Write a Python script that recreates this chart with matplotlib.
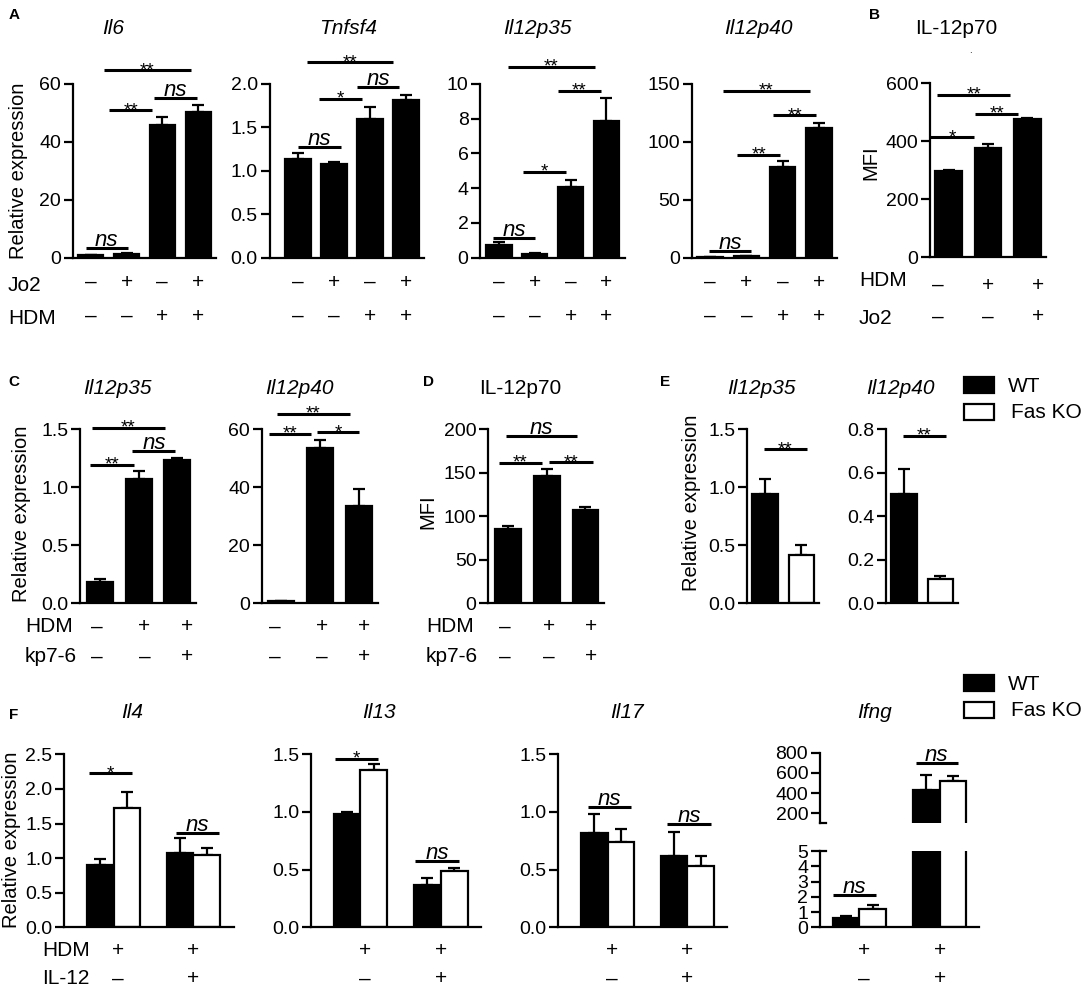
"""多面板柱状图复现：Fas 信号与 IL-12 表达"""

import matplotlib
matplotlib.use('Agg')
import matplotlib.pyplot as plt
import matplotlib.transforms as mtransforms
from matplotlib.patches import Rectangle
from matplotlib.ticker import FormatStrFormatter

plt.rcParams['font.family'] = ['Liberation Sans', 'DejaVu Sans']

W, H = 1084, 991

# ---- A: 四个基因, Jo2 / HDM 处理 ----
a_jo2 = ['–', '+', '–', '+']
a_hdm = ['–', '–', '+', '+']
il6_mean = [0.9, 1.3, 45.7, 50.2]
il6_err = [0.15, 0.2, 2.8, 2.6]
tnfsf4_mean = [1.14, 1.075, 1.6, 1.82]
tnfsf4_err = [0.06, 0.025, 0.14, 0.05]
a_p35_mean = [0.73, 0.2, 4.09, 7.89]
a_p35_err = [0.19, 0.05, 0.36, 1.28]
a_p40_mean = [0.7, 1.1, 78.0, 112.3]
a_p40_err = [0.1, 0.2, 5.7, 3.7]

# ---- B: IL-12p70 MFI ----
b_hdm = ['–', '+', '+']
b_jo2 = ['–', '–', '+']
b_mean = [297, 376, 475]
b_err = [2, 13, 4]

# ---- C / D: kp7-6 处理 ----
cd_hdm = ['–', '+', '+']
cd_kp = ['–', '–', '+']
c_p35_mean = [0.186, 1.07, 1.233]
c_p35_err = [0.025, 0.065, 0.02]
c_p40_mean = [0.8, 53.6, 33.6]
c_p40_err = [0.1, 2.7, 5.8]
d_mean = [85.7, 145.6, 107.0]
d_err = [3.1, 8.8, 3.0]

# ---- E: WT vs Fas KO ----
e_p35_mean = [0.943, 0.413]
e_p35_err = [0.127, 0.086]
e_p40_mean = [0.5, 0.11]
e_p40_err = [0.118, 0.017]

# ---- F: 两组 (HDM, HDM+IL-12) x WT / Fas KO ----
f_hdm = ['+', '+']
f_il12 = ['–', '+']
il4_wt, il4_wt_err = [0.896, 1.08], [0.084, 0.21]
il4_ko, il4_ko_err = [1.72, 1.05], [0.24, 0.09]
il13_wt, il13_wt_err = [0.983, 0.367], [0.017, 0.058]
il13_ko, il13_ko_err = [1.364, 0.491], [0.052, 0.02]
il17_wt, il17_wt_err = [0.815, 0.616], [0.165, 0.208]
il17_ko, il17_ko_err = [0.743, 0.535], [0.11, 0.086]
ifng_wt, ifng_wt_err = [0.63, 429], [0.09, 153]
ifng_ko, ifng_ko_err = [1.22, 517], [0.24, 49]

# 显著性标注 (x起点, x终点, y, 文本)
sig_il6 = [(-0.15, 1.03, 3.3, 'ns'), (0.52, 1.70, 50.9, '**'),
           (1.76, 2.96, 55.3, 'ns'), (0.38, 2.79, 64.7, '**')]
sig_tnfsf4 = [(0.0, 1.19, 1.275, 'ns'), (0.57, 1.77, 1.827, '*'),
              (1.63, 2.82, 1.96, 'ns'), (0.24, 2.63, 2.25, '**')]
sig_a_p35 = [(-0.16, 1.01, 1.15, 'ns'), (0.68, 1.87, 4.95, '*'),
             (1.65, 2.84, 9.6, '**'), (0.25, 2.67, 11.0, '**')]
sig_a_p40 = [(-0.04, 1.14, 5.7, 'ns'), (0.74, 1.93, 88.9, '**'),
             (1.74, 2.92, 123, '**'), (0.35, 2.75, 144, '**')]
sig_b = [(-0.48, 0.64, 414, '*'), (0.68, 1.77, 494, '**'),
         (-0.3, 1.57, 561, '**')]
sig_c_p35 = [(-0.25, 0.87, 1.193, '**'), (0.84, 1.95, 1.31, 'ns'),
             (-0.2, 1.67, 1.511, '**')]
sig_c_p40 = [(-0.31, 0.79, 58.3, '**'), (0.93, 2.02, 58.9, '*'),
             (-0.09, 1.77, 65.3, '**')]
sig_d = [(-0.23, 0.86, 161, '**'), (1.05, 2.19, 161.8, '**'),
         (-0.06, 1.77, 192, 'ns')]
sig_e_p35 = [(-0.04, 1.15, 1.325, '**')]
sig_e_p40 = [(-0.04, 1.15, 0.768, '**')]
sig_il4 = [(-0.31, 0.23, 2.225, '*'), (0.78, 1.32, 1.363, 'ns')]
sig_il13 = [(-0.32, 0.22, 1.46, '*'), (0.68, 1.23, 0.572, 'ns')]
sig_il17 = [(-0.25, 0.29, 1.046, 'ns'), (0.75, 1.29, 0.896, 'ns')]
sig_ifng_low = [(-0.33, 0.21, 2.12, 'ns')]
sig_ifng_high = [(0.70, 1.23, 696, 'ns')]

fig = plt.figure(figsize=(W / 100, H / 100), dpi=100)


def fx(px):
    return px / W


def fy(py):
    return 1 - py / H


def add_ax(x0, x1, ytop, ybot):
    return fig.add_axes([fx(x0), fy(ybot), (x1 - x0) / W, (ybot - ytop) / H])


def style(ax, xlim, ylim, yticks, fmt):
    for s in ('top', 'right'):
        ax.spines[s].set_visible(False)
    for s in ('left', 'bottom'):
        ax.spines[s].set_linewidth(1.6)
    ax.set_xlim(*xlim)
    ax.set_ylim(*ylim)
    ax.set_yticks(yticks)
    ax.yaxis.set_major_formatter(FormatStrFormatter(fmt))
    ax.set_xticks([])
    ax.tick_params(axis='y', direction='out', length=6.5, width=1.6,
                   pad=2, labelsize=14)


def bars(ax, x, mean, err, color='black', width=0.7):
    ax.bar(x, mean, width, color=color, edgecolor='black', linewidth=1.6,
           zorder=2)
    ax.errorbar(x, mean, yerr=[[0] * len(err), err], fmt='none',
                ecolor='black', elinewidth=1.6, capsize=4, capthick=1.6,
                zorder=1)


def sig(ax, items):
    for x0, x1, y, label in items:
        ax.plot([x0, x1], [y, y], color='black', lw=2.2, clip_on=False,
                solid_capstyle='butt')
        if label == 'ns':
            ax.annotate('ns', ((x0 + x1) / 2, y), xytext=(0, 1.5),
                        textcoords='offset points', ha='center',
                        va='baseline', fontsize=16, style='italic',
                        annotation_clip=False)
        else:
            ax.annotate(label, ((x0 + x1) / 2, y), xytext=(0, -3.5),
                        textcoords='offset points', ha='center',
                        va='baseline', fontsize=13.5, annotation_clip=False)


def sign_row(ax, xs, signs, ypx):
    tr = mtransforms.blended_transform_factory(ax.transData, fig.transFigure)
    for x, s in zip(xs, signs):
        ax.text(x, fy(ypx), s, transform=tr, ha='center', va='center',
                fontsize=15)


def ftext(xpx, ypx, s, **kw):
    kw.setdefault('fontsize', 15)
    kw.setdefault('va', 'center')
    fig.text(fx(xpx), fy(ypx), s, **kw)


def legend(ytop):
    for i, (fc, lab, tx) in enumerate([('black', 'WT', 1008),
                                       ('white', 'Fas KO', 1011)]):
        y0 = ytop + i * 27
        fig.add_artist(Rectangle((fx(964), fy(y0 + 16)), 30.5 / W, 16 / H,
                                 transform=fig.transFigure, facecolor=fc,
                                 edgecolor='black', linewidth=1.6))
        ftext(tx, y0 + 9, lab, ha='left')


x4 = list(range(4))
x3 = list(range(3))
x2 = list(range(2))

# ================= 第一行 A, B =================
r1_top, r1_bot = 84, 257.7
ax = add_ax(73, 216, r1_top, r1_bot)
bars(ax, x4, il6_mean, il6_err)
style(ax, (-0.5, 3.5), (0, 60), [0, 20, 40, 60], '%d')
sig(ax, sig_il6)
sign_row(ax, x4, a_jo2, 282)
sign_row(ax, x4, a_hdm, 316)

ax = add_ax(269.6, 423.6, r1_top, r1_bot)
bars(ax, x4, tnfsf4_mean, tnfsf4_err)
style(ax, (-0.79, 3.49), (0, 2.0), [0, 0.5, 1.0, 1.5, 2.0], '%.1f')
sig(ax, sig_tnfsf4)
sign_row(ax, x4, a_jo2, 282)
sign_row(ax, x4, a_hdm, 316)

ax = add_ax(480.4, 625, r1_top, r1_bot)
bars(ax, x4, a_p35_mean, a_p35_err)
style(ax, (-0.52, 3.52), (0, 10), [0, 2, 4, 6, 8, 10], '%d')
sig(ax, sig_a_p35)
sign_row(ax, x4, a_jo2, 282)
sign_row(ax, x4, a_hdm, 316)

ax = add_ax(692, 836.7, r1_top, r1_bot)
bars(ax, x4, a_p40_mean, a_p40_err)
style(ax, (-0.5, 3.49), (0, 150), [0, 50, 100, 150], '%d')
sig(ax, sig_a_p40)
sign_row(ax, x4, a_jo2, 282)
sign_row(ax, x4, a_hdm, 316)

ax = add_ax(930, 1046, 83.3, 257)
bars(ax, x3, b_mean, b_err, width=0.68)
style(ax, (-0.48, 2.48), (0, 600), [0, 200, 400, 600], '%d')
sig(ax, sig_b)
sign_row(ax, [-0.28, 1.0, 2.28], b_hdm, 285)
sign_row(ax, [-0.28, 1.0, 2.28], b_jo2, 317)

ftext(8, 285, 'Jo2', ha='left')
ftext(8, 318, 'HDM', ha='left')
ftext(859, 280, 'HDM', ha='left')
ftext(859, 318, 'Jo2', ha='left')
ftext(19, 171, 'Relative expression', rotation=90, ha='center', fontsize=14.5)
ftext(871, 163, 'MFI', rotation=90, ha='center', fontsize=14.5)
for xc, t, it in [(113.6, 'Il6', True), (348, 'Tnfsf4', True),
                  (537, 'Il12p35', True), (758.6, 'Il12p40', True),
                  (956, 'IL-12p70', False)]:
    ftext(xc, 29, t, ha='center', style='italic' if it else 'normal')
ftext(970, 50, '.', ha='center', fontsize=7)
ftext(14, 15, 'A', ha='center', fontsize=11, weight='bold')
ftext(875, 15, 'B', ha='center', fontsize=11, weight='bold')

# ================= 第二行 C, D, E =================
r2_top, r2_bot = 429, 603.3
ax = add_ax(80, 196, r2_top, r2_bot)
bars(ax, x3, c_p35_mean, c_p35_err, width=0.67)
style(ax, (-0.51, 2.48), (0, 1.5), [0, 0.5, 1.0, 1.5], '%.1f')
sig(ax, sig_c_p35)
sign_row(ax, [-0.07, 1.15, 2.25], cd_hdm, 627)
sign_row(ax, [-0.07, 1.15, 2.25], cd_kp, 657)

ax = add_ax(261.7, 378, r2_top, r2_bot)
bars(ax, x3, c_p40_mean, c_p40_err, width=0.67)
style(ax, (-0.49, 2.5), (0, 60), [0, 20, 40, 60], '%d')
sig(ax, sig_c_p40)
sign_row(ax, [-0.14, 1.06, 2.14], cd_hdm, 627)
sign_row(ax, [-0.14, 1.06, 2.14], cd_kp, 657)

ax = add_ax(488.3, 604, r2_top, r2_bot)
bars(ax, x3, d_mean, d_err, width=0.67)
style(ax, (-0.52, 2.48), (0, 200), [0, 50, 100, 150, 200], '%d')
sig(ax, sig_d)
sign_row(ax, [-0.1, 1.05, 2.15], cd_hdm, 627)
sign_row(ax, [-0.1, 1.05, 2.15], cd_kp, 657)

ax = add_ax(747, 819.3, r2_top, r2_bot)
bars(ax, x2, e_p35_mean, e_p35_err, color=['black', 'white'])
style(ax, (-0.5, 1.49), (0, 1.5), [0, 0.5, 1.0, 1.5], '%.1f')
sig(ax, sig_e_p35)

ax = add_ax(886, 958, r2_top, r2_bot)
bars(ax, x2, e_p40_mean, e_p40_err, color=['black', 'white'])
style(ax, (-0.5, 1.49), (0, 0.8), [0, 0.2, 0.4, 0.6, 0.8], '%.1f')
sig(ax, sig_e_p40)

ftext(25, 627, 'HDM', ha='left')
ftext(25, 657, 'kp7-6', ha='left')
ftext(426, 627, 'HDM', ha='left')
ftext(426, 657, 'kp7-6', ha='left')
ftext(22, 514, 'Relative expression', rotation=90, ha='center', fontsize=14.5)
ftext(428, 512, 'MFI', rotation=90, ha='center', fontsize=14.5)
ftext(691.6, 503, 'Relative expression', rotation=90, ha='center',
      fontsize=14.5)
for xc, t, it in [(117, 'Il12p35', True), (299.6, 'Il12p40', True),
                  (520, 'IL-12p70', False), (761, 'Il12p35', True),
                  (900, 'Il12p40', True)]:
    ftext(xc, 388, t, ha='center', style='italic' if it else 'normal')
ftext(14, 382, 'C', ha='center', fontsize=11, weight='bold')
ftext(429, 382, 'D', ha='center', fontsize=11, weight='bold')
ftext(665, 382, 'E', ha='center', fontsize=11, weight='bold')
legend(377)

# ================= 第三行 F =================
r3_top, r3_bot = 754.3, 927.3
bw = 0.333
wt_x = [g - bw / 2 for g in x2]
ko_x = [g + bw / 2 for g in x2]
f_sign_x = [0.06, 1.0]

panels = [((64.4, 234.2), (-0.615, 1.51), (0, 2.5),
           [0, 0.5, 1.0, 1.5, 2.0, 2.5], il4_wt, il4_wt_err, il4_ko,
           il4_ko_err, sig_il4),
          ((311, 481), (-0.616, 1.5), (0, 1.5), [0, 0.5, 1.0, 1.5],
           il13_wt, il13_wt_err, il13_ko, il13_ko_err, sig_il13),
          ((558, 727.4), (-0.62, 1.5), (0, 1.5), [0, 0.5, 1.0, 1.5],
           il17_wt, il17_wt_err, il17_ko, il17_ko_err, sig_il17)]
for (x0, x1), xlim, ylim, yt, wm, we, km, ke, sg in panels:
    ax = add_ax(x0, x1, r3_top, r3_bot)
    bars(ax, wt_x, wm, we, width=bw)
    bars(ax, ko_x, km, ke, color='white', width=bw)
    style(ax, xlim, ylim, yt, '%.1f')
    sig(ax, sg)
    sign_row(ax, f_sign_x, f_hdm, 950)
    sign_row(ax, f_sign_x, f_il12, 979)

# Ifng 断轴
ax_hi = add_ax(820, 979, 752.7, 823.3)
ax_lo = add_ax(820, 979, 851, r3_bot)
for a, ylim, yt in [(ax_hi, (100, 800), [200, 400, 600, 800]),
                    (ax_lo, (0, 5), [0, 1, 2, 3, 4, 5])]:
    bars(a, wt_x, ifng_wt, ifng_wt_err, width=bw)
    bars(a, ko_x, ifng_ko, ifng_ko_err, color='white', width=bw)
    style(a, (-0.49, 1.49), ylim, yt, '%d')
ax_hi.spines['bottom'].set_visible(False)
xl = ax_hi.get_xlim()[0]
ax_hi.plot([xl, xl + 0.075], [100, 100], color='black', lw=1.6,
           clip_on=False)
ax_lo.plot([xl, xl + 0.075], [5, 5], color='black', lw=1.6, clip_on=False)
sig(ax_lo, sig_ifng_low)
sig(ax_hi, sig_ifng_high)
sign_row(ax_lo, f_sign_x, f_hdm, 950)
sign_row(ax_lo, f_sign_x, f_il12, 979)

ftext(42, 950, 'HDM', ha='left')
ftext(42, 979, 'IL-12', ha='left')
ftext(12, 840, 'Relative expression', rotation=90, ha='center', fontsize=14.5)
for xc, t in [(132.6, 'Il4'), (378.8, 'Il13'), (626.7, 'Il17'),
              (874.8, 'Ifng')]:
    ftext(xc, 713, t, ha='center', style='italic')
ftext(14, 715, 'F', ha='center', fontsize=11, weight='bold')
legend(675)

fig.savefig('out.png', dpi=100)
